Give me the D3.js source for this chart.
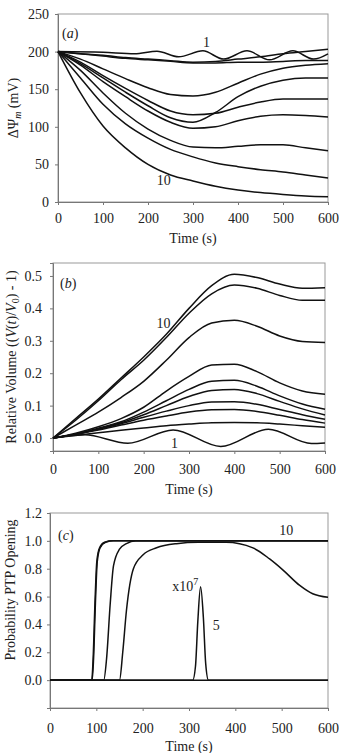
<!DOCTYPE html>
<html>
<head>
<meta charset="utf-8">
<script src="https://cdn.jsdelivr.net/npm/d3@7"></script>
<style>
  body { margin: 0; background: #fff; }
  svg { display: block; font-family: "Liberation Serif", "Times New Roman", serif; }
  .tick text { font-family: "Liberation Serif", "Times New Roman", serif; font-size: 14px; fill: #222; }
  .domain, .tick line { stroke: #777; }
</style>
</head>
<body>
<div id="chart"></div>
<script>
// ---- data ----
const times = [0, 50, 100, 150, 200, 250, 300, 350, 400, 450, 500, 550, 600];

// (a) membrane potential, curves 2..10 sampled at `times`
const psiCurves = [
  [200, 197, 195, 192, 190, 188, 186, 187, 190, 193, 197, 200, 203],
  [200, 197, 194, 191, 189, 187, 185, 185, 186, 186, 187, 188, 188],
  [200, 190, 177, 164, 152, 143, 141, 146, 158, 170, 178, 182, 184],
  [200, 186, 168, 151, 135, 121, 116, 118, 126, 133, 137, 137, 137],
  [200, 184, 165, 146, 128, 112, 106, 119, 140, 154, 162, 165, 165],
  [200, 182, 160, 140, 121, 106, 98, 100, 108, 114, 116, 115, 113],
  [200, 175, 145, 118, 97, 82, 73, 72, 74, 76, 76, 72, 68],
  [200, 165, 130, 104, 85, 70, 60, 52, 47, 43, 40, 36, 32],
  [200, 145, 101, 72, 50, 36, 28, 21, 16, 12.5, 10, 8, 7]
];
const psi1Times = [0, 100, 170, 220, 268, 322, 368, 420, 470, 522, 568, 600];
const psi1Values = [200, 199, 197, 200.5, 193, 201, 190, 201, 189, 201, 190, 197];

// (b) relative volume, curves 2..10 sampled at `times`
const volCurves = [
  [0, 0.06, 0.12, 0.185, 0.25, 0.32, 0.40, 0.47, 0.505, 0.495, 0.475, 0.462, 0.464],
  [0, 0.055, 0.115, 0.18, 0.24, 0.31, 0.385, 0.445, 0.472, 0.462, 0.44, 0.425, 0.425],
  [0, 0.04, 0.08, 0.125, 0.175, 0.24, 0.31, 0.355, 0.363, 0.345, 0.315, 0.298, 0.295],
  [0, 0.015, 0.035, 0.06, 0.095, 0.145, 0.19, 0.225, 0.228, 0.205, 0.17, 0.145, 0.135],
  [0, 0.012, 0.03, 0.05, 0.08, 0.115, 0.15, 0.175, 0.178, 0.16, 0.13, 0.105, 0.089],
  [0, 0.012, 0.028, 0.047, 0.072, 0.10, 0.128, 0.147, 0.15, 0.137, 0.113, 0.09, 0.071],
  [0, 0.012, 0.027, 0.044, 0.064, 0.083, 0.10, 0.111, 0.112, 0.104, 0.088, 0.072, 0.058],
  [0, 0.012, 0.025, 0.04, 0.055, 0.068, 0.08, 0.087, 0.088, 0.082, 0.07, 0.057, 0.046],
  [0, 0.008, 0.016, 0.024, 0.031, 0.038, 0.043, 0.047, 0.048, 0.047, 0.043, 0.038, 0.033]
];
const vol1Times = [0, 70, 165, 265, 370, 475, 570, 600];
const vol1Values = [0, 0.01, -0.016, 0.025, -0.026, 0.027, -0.017, -0.015];

// (c) probability of PTP opening
const flatTimes = [0, 600];
const flatValues = [0, 0];
const ptp10Times = [0, 90, 93, 97, 101, 107, 118, 135, 600];
const ptp10Values = [0, 0, 0.15, 0.55, 0.85, 0.95, 0.99, 1, 1];
const ptp9Times = [0, 91, 94, 98, 102, 108, 120, 138, 600];
const ptp9Values = [0, 0, 0.15, 0.55, 0.85, 0.95, 0.99, 1, 1];
const ptp8Times = [0, 116, 122, 130, 137, 150, 165, 185, 600];
const ptp8Values = [0, 0, 0.15, 0.55, 0.82, 0.94, 0.98, 1, 1];
const ptp7Times = [0, 150, 157, 165, 180, 201, 230, 273, 320, 380, 438, 474, 503, 539, 567, 600];
const ptp7Values = [0, 0, 0.2, 0.5, 0.8, 0.9, 0.95, 0.98, 0.99, 0.99, 0.95, 0.87, 0.79, 0.68, 0.62, 0.595];
const ptp5Times = [0, 308, 314, 319, 325, 331, 336, 342, 600];
const ptp5Values = [0, 0, 0.1, 0.42, 0.67, 0.45, 0.12, 0, 0];

const xTicks = [0, 100, 200, 300, 400, 500, 600];
const psiTicks = [0, 50, 100, 150, 200, 250];
const volTicks = [0, 0.1, 0.2, 0.3, 0.4, 0.5];
const ptpTicks = [0, 0.2, 0.4, 0.6, 0.8, 1.0, 1.2];

// ---- drawing ----
const svg = d3.select("#chart").append("svg")
  .attr("width", 339)
  .attr("height", 753);

function zip(ts, vs) { return ts.map((t, i) => [t, vs[i]]); }

function drawPanel(p) {
  const x = d3.scaleLinear().domain([0, 600]).range([p.left, p.right]);
  const y = d3.scaleLinear().domain(p.yDomain).range([p.bottom, p.top]);
  const g = svg.append("g");

  // frame
  g.append("rect")
    .attr("x", p.left).attr("y", p.top)
    .attr("width", p.right - p.left).attr("height", p.bottom - p.top)
    .attr("fill", "none").attr("stroke", "#999");

  g.append("g")
    .attr("transform", `translate(0,${p.bottom})`)
    .call(d3.axisBottom(x).tickValues(xTicks).tickSize(3).tickPadding(p.xPad).tickFormat(d3.format("d")));

  g.append("g")
    .attr("transform", `translate(${p.left},0)`)
    .call(d3.axisLeft(y).tickValues(p.yTicks).tickSize(3).tickPadding(p.yPad).tickFormat(p.yFormat));

  const line = d3.line()
    .x(d => x(d[0]))
    .y(d => y(d[1]))
    .curve(d3.curveMonotoneX);

  g.selectAll("path.curve")
    .data(p.series)
    .enter()
    .append("path")
    .attr("class", "curve")
    .attr("d", line)
    .attr("fill", "none")
    .attr("stroke", "#111")
    .attr("stroke-width", 1.5);

  // x title
  g.append("text")
    .attr("x", (p.left + p.right) / 2)
    .attr("y", p.xTitleY)
    .attr("text-anchor", "middle")
    .style("font-size", "14px")
    .style("fill", "#222")
    .text("Time (s)");

  // y title
  const yt = g.append("text")
    .attr("transform", `translate(${p.yTitleX},${p.yTitleY}) rotate(-90)`)
    .attr("text-anchor", "middle")
    .attr("dominant-baseline", "central")
    .style("font-size", "14px")
    .style("fill", "#222");
  p.yTitle(yt);

  // panel tag
  const tag = g.append("text")
    .attr("x", p.tagX).attr("y", p.tagY)
    .style("font-size", "14px")
    .style("fill", "#222");
  tag.append("tspan").text("(");
  tag.append("tspan").style("font-style", "italic").text(p.tag);
  tag.append("tspan").text(")");

  // curve labels
  p.labels.forEach(l => {
    const t = g.append("text")
      .attr("x", x(l.t)).attr("y", y(l.v))
      .attr("text-anchor", "middle")
      .style("font-size", "14px")
      .style("fill", "#222")
      .text(l.text);
    if (l.sup) t.append("tspan").attr("dy", -6).style("font-size", "10px").text(l.sup);
  });
}

drawPanel({
  left: 58, right: 328, top: 14, bottom: 202,
  yDomain: [0, 250], yTicks: psiTicks, yFormat: d3.format("d"),
  xPad: 8, yPad: 6, xTitleY: 243,
  series: [zip(psi1Times, psi1Values)].concat(psiCurves.map(c => zip(times, c))),
  yTitleX: 13, yTitleY: 108,
  yTitle: t => {
    t.append("tspan").text("ΔΨ");
    t.append("tspan").attr("dy", 4).style("font-size", "10px").style("font-style", "italic").text("m");
    t.append("tspan").attr("dy", -4).text(" (mV)");
  },
  tag: "a", tagX: 62, tagY: 38,
  labels: [{ t: 330, v: 206, text: "1" }, { t: 235, v: 22, text: "10" }]
});

drawPanel({
  left: 53, right: 325, top: 263, bottom: 451,
  yDomain: [-0.04, 0.54], yTicks: volTicks, yFormat: d3.format(".1f"),
  xPad: 10, yPad: 8, xTitleY: 494,
  series: [zip(vol1Times, vol1Values)].concat(volCurves.map(c => zip(times, c))),
  yTitleX: 11, yTitleY: 357,
  yTitle: t => {
    t.append("tspan").text("Relative Volume ((");
    t.append("tspan").style("font-style", "italic").text("V");
    t.append("tspan").text("(");
    t.append("tspan").style("font-style", "italic").text("t");
    t.append("tspan").text(")/");
    t.append("tspan").style("font-style", "italic").text("V");
    t.append("tspan").attr("dy", 4).style("font-size", "10px").text("0");
    t.append("tspan").attr("dy", -4).text(") - 1)");
  },
  tag: "b", tagX: 60, tagY: 288,
  labels: [{ t: 244, v: 0.34, text: "10" }, { t: 268, v: -0.03, text: "1" }]
});

drawPanel({
  left: 50, right: 328, top: 513, bottom: 708,
  yDomain: [-0.2, 1.2], yTicks: ptpTicks, yFormat: d3.format(".1f"),
  xPad: 12, yPad: 5, xTitleY: 751,
  series: [
    zip(flatTimes, flatValues),
    zip(ptp5Times, ptp5Values),
    zip(ptp7Times, ptp7Values),
    zip(ptp8Times, ptp8Values),
    zip(ptp9Times, ptp9Values),
    zip(ptp10Times, ptp10Values)
  ],
  yTitleX: 10, yTitleY: 590,
  yTitle: t => t.text("Probability PTP Opening"),
  tag: "c", tagX: 58, tagY: 540,
  labels: [
    { t: 510, v: 1.04, text: "10" },
    { t: 292, v: 0.64, text: "x10", sup: "7" },
    { t: 359, v: 0.36, text: "5" }
  ]
});
</script>
</body>
</html>
